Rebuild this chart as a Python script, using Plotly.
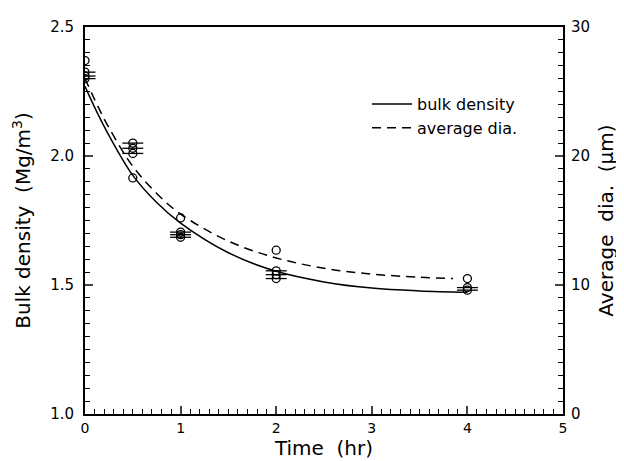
import plotly.graph_objects as go

# Times (hr)
t_pts = [0, 0.5, 1, 2, 4]

# Bulk density replicate measurements (Mg/m^3), left axis
bd_t = [0, 0, 0, 0.5, 0.5, 0.5, 1, 1, 1, 2, 2, 2, 4, 4]
bd_v = [2.325, 2.31, 2.30, 2.05, 2.03, 2.01, 1.705, 1.695, 1.685,
        1.555, 1.54, 1.525, 1.49, 1.48]

# Average diameter (um), right axis
dia_v = [27.4, 18.3, 15.2, 12.7, 10.5]

# Fitted curves
bd_curve_t = [0, 0.125, 0.25, 0.5, 0.75, 1.0, 1.5, 2.0, 2.5, 3.0, 3.5, 4.0]
bd_curve_v = [2.27, 2.17, 2.08, 1.925, 1.82, 1.74, 1.625, 1.553, 1.512, 1.488, 1.477, 1.472]

dia_curve_t = [0, 0.125, 0.25, 0.5, 0.75, 1.0, 1.5, 2.0, 2.5, 3.0, 3.5, 3.85]
dia_curve_v = [26.0, 24.0, 22.2, 19.2, 17.1, 15.5, 13.4, 12.1, 11.3, 10.85, 10.6, 10.5]

FONT = "DejaVu Sans"

fig = go.Figure()

fig.add_trace(go.Scatter(
    x=bd_curve_t, y=bd_curve_v, mode="lines", line=dict(color="black", width=1.5, shape="spline"),
    name="bulk density", yaxis="y"))
fig.add_trace(go.Scatter(
    x=dia_curve_t, y=dia_curve_v, mode="lines",
    line=dict(color="black", width=1.5, dash="9px,6px", shape="spline"),
    name="average dia.", yaxis="y2"))

fig.add_trace(go.Scatter(
    x=bd_t, y=bd_v, mode="markers", showlegend=False, yaxis="y",
    marker=dict(symbol="line-ew", size=15, line=dict(color="black", width=1.3))))
fig.add_trace(go.Scatter(
    x=bd_t, y=bd_v, mode="markers", showlegend=False, yaxis="y",
    marker=dict(symbol="circle-open", size=8, color="black", line=dict(color="black", width=1.3))))
fig.add_trace(go.Scatter(
    x=t_pts, y=dia_v, mode="markers", showlegend=False, yaxis="y2",
    marker=dict(symbol="circle-open", size=8, color="black", line=dict(color="black", width=1.3))))

fig.update_layout(
    width=616, height=453,
    margin=dict(l=77, r=61, t=10, b=47),
    paper_bgcolor="white", plot_bgcolor="white",
    font=dict(family=FONT, color="black", size=15),
    showlegend=True,
    legend=dict(x=0.59, y=0.845, xanchor="left", yanchor="top",
                bgcolor="rgba(0,0,0,0)", font=dict(size=16), tracegroupgap=0,
                itemwidth=40),
    xaxis=dict(range=[0, 5], dtick=1, tick0=0, ticks="inside", ticklen=8, tickwidth=1.5,
               showline=True, linecolor="black", linewidth=1.8, mirror=True,
               showgrid=False, zeroline=False,
               minor=dict(dtick=0.1, ticks="inside", ticklen=5, tickwidth=1.2, tickcolor="black", showgrid=False),
               title=dict(text="Time  (hr)", font=dict(size=20), standoff=0),
               tickfont=dict(size=14)),
    yaxis=dict(range=[1.0, 2.5], dtick=0.5, tick0=1.0, tickformat=".1f", ticks="inside",
               ticklen=8, tickwidth=1.5, showline=True, linecolor="black", linewidth=1.8,
               showgrid=False, zeroline=False, ticklabelstandoff=6,
               minor=dict(dtick=0.05, ticks="inside", ticklen=5, tickwidth=1.2, tickcolor="black", showgrid=False),
               title=dict(text="Bulk density  (Mg/m<sup>3</sup>)", font=dict(size=20), standoff=14),
               tickfont=dict(size=15)),
    yaxis2=dict(range=[0, 30], dtick=10, tick0=0, overlaying="y", side="right", ticks="inside",
                ticklen=8, tickwidth=1.5, showline=True, linecolor="black", linewidth=1.8,
                showgrid=False, zeroline=False, ticklabelstandoff=3,
                minor=dict(dtick=1, ticks="inside", ticklen=5, tickwidth=1.2, tickcolor="black", showgrid=False),
                title=dict(text="Average  dia.  (μm)", font=dict(size=20), standoff=10),
                tickfont=dict(size=15)),
)

fig.write_html("out.html")
